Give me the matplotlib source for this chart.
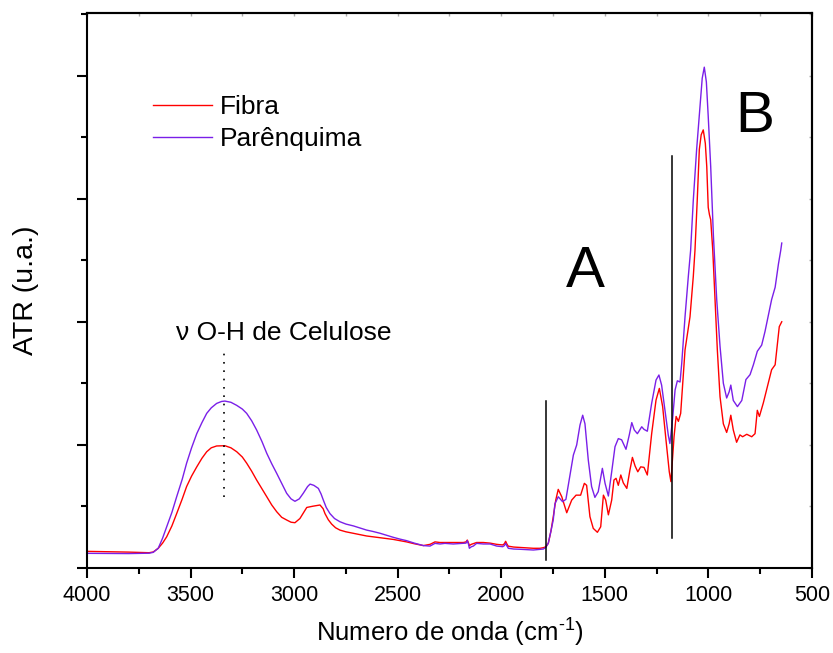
import numpy as np
import matplotlib
matplotlib.use("Agg")
import matplotlib.pyplot as plt
from matplotlib.ticker import MultipleLocator, NullFormatter

plt.rcParams['font.family'] = ['Liberation Sans', 'DejaVu Sans']
plt.rcParams['mathtext.fontset'] = 'custom'
plt.rcParams['mathtext.rm'] = 'Liberation Sans'
plt.rcParams['mathtext.default'] = 'regular'

# Parenquima spectrum (wavenumber, ATR)
wn_par = [4000, 3900, 3800, 3700, 3680, 3656, 3635, 3615, 3590, 3567, 3540, 3519, 3495, 3470,
          3445, 3422, 3400, 3374, 3350, 3334, 3305, 3277, 3250, 3229, 3205, 3181, 3155, 3132,
          3108, 3084, 3060, 3036, 3015, 2996, 2975, 2956, 2935, 2923, 2905, 2883, 2870, 2859,
          2845, 2827, 2805, 2779, 2750, 2714, 2680, 2650, 2620, 2585, 2550, 2521, 2490, 2457,
          2420, 2376, 2344, 2320, 2296, 2272, 2232, 2183, 2170, 2164, 2158, 2154, 2145, 2135,
          2119, 2087, 2054, 2022, 1993, 1985, 1979, 1972, 1966, 1940, 1910, 1845, 1797, 1785,
          1773, 1760, 1749, 1741, 1725, 1704, 1688, 1668, 1652, 1636, 1620, 1607, 1596, 1580,
          1564, 1548, 1532, 1512, 1499, 1483, 1467, 1451, 1435, 1419, 1398, 1382, 1370, 1358,
          1343, 1322, 1311, 1295, 1274, 1253, 1239, 1226, 1210, 1194, 1186, 1173, 1161, 1150,
          1137, 1129, 1113, 1097, 1086, 1073, 1057, 1041, 1030, 1020, 1010, 1001, 989, 976,
          960, 944, 928, 912, 900, 892, 880, 860, 839, 819, 799, 783, 764, 743, 727, 711, 695,
          678, 662, 651, 646]
atr_par = [0.117, 0.116, 0.115, 0.118, 0.125, 0.158, 0.24, 0.333, 0.45, 0.577, 0.72, 0.85, 0.975, 1.09,
           1.18, 1.255, 1.30, 1.336, 1.352, 1.355, 1.345, 1.32, 1.29, 1.255, 1.195, 1.12, 1.025, 0.93,
           0.845, 0.767, 0.685, 0.605, 0.56, 0.54, 0.56, 0.605, 0.66, 0.68, 0.67, 0.645, 0.6, 0.55,
           0.49, 0.44, 0.40, 0.374, 0.355, 0.34, 0.322, 0.306, 0.295, 0.28, 0.262, 0.247, 0.233, 0.22,
           0.20, 0.18, 0.176, 0.198, 0.193, 0.198, 0.193, 0.198, 0.2, 0.22, 0.19, 0.158, 0.17, 0.176,
           0.198, 0.193, 0.193, 0.176, 0.171, 0.18, 0.198, 0.175, 0.158, 0.152, 0.15, 0.144, 0.152, 0.165,
           0.2, 0.3, 0.39, 0.52, 0.577, 0.537, 0.556, 0.754, 0.916, 0.998, 1.16, 1.24, 1.17, 0.876,
           0.66, 0.572, 0.618, 0.808, 0.686, 0.583, 0.78, 0.984, 1.05, 1.04, 0.963, 1.08, 1.18, 1.12,
           1.09, 1.146, 1.125, 1.11, 1.337, 1.526, 1.567, 1.485, 1.28, 1.08, 1.01, 1.21, 1.445, 1.52,
           1.51, 1.66, 2.04, 2.37, 2.58, 2.99, 3.40, 3.75, 3.98, 4.07, 3.95, 3.67, 3.26, 2.70,
           2.18, 1.80, 1.50, 1.38, 1.43, 1.485, 1.36, 1.31, 1.36, 1.53, 1.57, 1.65, 1.76, 1.81, 1.92, 2.05, 2.18,
           2.28, 2.47, 2.58, 2.64]

# Fibra spectrum
wn_fib = [4000, 3900, 3800, 3700, 3680, 3656, 3635, 3615, 3590, 3567, 3540, 3519, 3495, 3470,
          3445, 3422, 3400, 3374, 3334, 3305, 3277, 3250, 3229, 3205, 3181, 3155, 3132, 3108,
          3084, 3060, 3036, 3015, 2996, 2972, 2950, 2939, 2910, 2875, 2860, 2851, 2835, 2819,
          2800, 2779, 2750, 2714, 2680, 2650, 2585, 2521, 2457, 2420, 2376, 2344, 2320, 2296,
          2272, 2232, 2183, 2170, 2164, 2158, 2154, 2145, 2119, 2087, 2054, 2022, 1993, 1985,
          1979, 1972, 1966, 1940, 1910, 1845, 1813, 1797, 1785, 1773, 1760, 1749, 1737, 1725,
          1708, 1684, 1660, 1639, 1617, 1599, 1588, 1572, 1556, 1536, 1520, 1507, 1496, 1483,
          1467, 1456, 1446, 1435, 1423, 1411, 1394, 1379, 1367, 1354, 1341, 1327, 1311, 1295,
          1274, 1253, 1237, 1221, 1205, 1189, 1181, 1166, 1156, 1145, 1134, 1113, 1089, 1073,
          1065, 1054, 1044, 1035, 1025, 1015, 1008, 1001, 995, 989, 979, 968, 957, 944, 928,
          912, 900, 892, 880, 864, 848, 835, 815, 791, 775, 764, 754, 735, 711, 695, 678, 667,
          658, 646]
atr_fib = [0.133, 0.13, 0.127, 0.122, 0.128, 0.158, 0.2, 0.252, 0.34, 0.44, 0.56, 0.66, 0.745, 0.82,
           0.89, 0.943, 0.975, 0.99, 0.992, 0.975, 0.943, 0.90, 0.85, 0.785, 0.713, 0.64, 0.577, 0.51,
           0.455, 0.41, 0.388, 0.37, 0.366, 0.40, 0.46, 0.49, 0.50, 0.51, 0.48, 0.44, 0.39, 0.355,
           0.325, 0.306, 0.292, 0.28, 0.268, 0.258, 0.244, 0.23, 0.21, 0.195, 0.18, 0.19, 0.21, 0.205,
           0.205, 0.205, 0.205, 0.21, 0.225, 0.2, 0.18, 0.19, 0.205, 0.205, 0.2, 0.19, 0.185, 0.195,
           0.215, 0.19, 0.175, 0.168, 0.165, 0.158, 0.158, 0.163, 0.17, 0.198, 0.3, 0.415, 0.55, 0.637,
           0.577, 0.447, 0.55, 0.59, 0.59, 0.686, 0.67, 0.415, 0.32, 0.288, 0.333, 0.59, 0.55, 0.43,
           0.55, 0.713, 0.727, 0.67, 0.754, 0.69, 0.645, 0.794, 0.897, 0.827, 0.78, 0.82, 0.816, 0.754,
           1.09, 1.363, 1.458, 1.31, 1.04, 0.78, 0.70, 1.065, 1.23, 1.19, 1.255, 1.77, 2.04, 2.37,
           2.58, 2.99, 3.40, 3.52, 3.56, 3.45, 3.26, 2.93, 2.87, 2.83, 2.58, 2.18, 1.77, 1.39, 1.17,
           1.10, 1.17, 1.24, 1.12, 1.02, 1.08, 1.065, 1.085, 1.065, 1.09, 1.28, 1.23, 1.34, 1.50, 1.61, 1.65, 1.82,
           1.96, 2.0]

red = '#FF0000'
purple = '#7A1FE8'

fig = plt.figure(figsize=(8.33, 6.53), dpi=100)
ax = fig.add_axes([0.1044, 0.1306, 0.8704, 0.8494])

ax.plot(wn_fib, atr_fib, color=red, lw=1.0, label='Fibra')
ax.plot(wn_par, atr_par, color=purple, lw=1.0, label='Parênquima')

# marker lines and labels
ax.plot([1785, 1785], [0.063, 1.358], color='black', lw=1.1)
ax.plot([1177, 1177], [0.239, 3.35], color='black', lw=1.1)
ax.plot([3338, 3338], [0.575, 1.754], color='black', lw=1.2, linestyle=(0, (1, 4)))
ax.text(3048, 1.851, 'ν O-H de Celulose', fontsize=19, ha='center', va='baseline')
ax.text(1593, 2.285, 'A', fontsize=42, ha='center', va='baseline')
ax.text(775, 3.545, 'B', fontsize=42, ha='center', va='baseline')

ax.set_xlim(4000, 500)
ax.set_ylim(0, 4.51)
ax.xaxis.set_major_locator(MultipleLocator(500))
ax.xaxis.set_minor_locator(MultipleLocator(250))
ax.yaxis.set_major_locator(MultipleLocator(1))
ax.yaxis.set_minor_locator(MultipleLocator(0.5))
ax.yaxis.set_major_formatter(NullFormatter())

for s in ax.spines.values():
    s.set_linewidth(1.5)
ax.tick_params(which='major', direction='out', length=7.5, width=1.5, labelsize=15.5, pad=5)
ax.tick_params(which='minor', direction='out', length=4, width=1.5)

secx = ax.secondary_xaxis('top')
secx.xaxis.set_major_locator(MultipleLocator(250))
secx.tick_params(direction='in', length=2.5, width=1, color='#aaaaaa', labeltop=False)
secx.spines['top'].set_linewidth(1.5)
secy = ax.secondary_yaxis('right')
secy.yaxis.set_major_locator(MultipleLocator(0.5))
secy.tick_params(direction='in', length=2.5, width=1, color='#aaaaaa', labelright=False)
secy.spines['right'].set_linewidth(1.5)

ax.set_xlabel(r'Numero de onda (cm$^{\text{-1}}$)', fontsize=18.5, labelpad=8)
ax.set_ylabel('ATR (u.a.)', fontsize=20.5, labelpad=22)

ax.legend(loc='upper left', bbox_to_anchor=(0.059, 0.895), frameon=False, fontsize=19,
          handlelength=2.2, handletextpad=0.3, labelspacing=0.32)

fig.savefig('out.png', dpi=100)
